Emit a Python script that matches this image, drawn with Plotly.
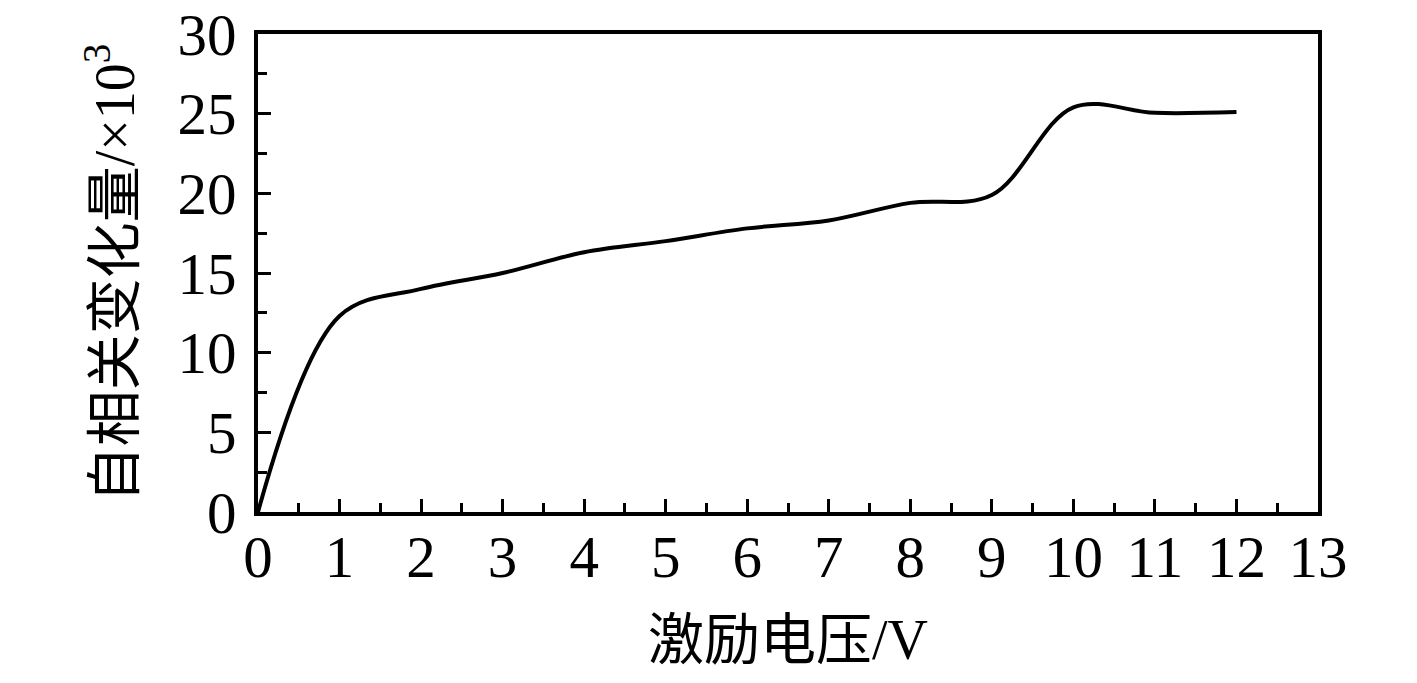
import plotly.graph_objects as go

# excitation voltage (V) and autocorrelation change (x10^3)
voltage = [0, 1, 2, 3, 4, 5, 6, 7, 8, 9, 10, 11, 12]
change = [0, 12.3, 14.0, 15.0, 16.3, 17.0, 17.8, 18.3, 19.4, 19.9, 25.4, 25.05, 25.1]

x_ticks = list(range(0, 14))
y_ticks = [0, 5, 10, 15, 20, 25, 30]

font_family = "Liberation Serif, Times New Roman, Noto Sans CJK SC, serif"

fig = go.Figure()
fig.add_trace(go.Scatter(
    x=voltage, y=change,
    mode='lines',
    line=dict(color='black', width=4, shape='spline', smoothing=1.0),
    showlegend=False
))

axis_common = dict(
    showline=True, linecolor='black', linewidth=3.5, mirror=True,
    ticks='inside', ticklen=13, tickwidth=3, tickcolor='black',
    showgrid=False, zeroline=False, automargin=False,
    ticklabeloverflow='allow',
    tickfont=dict(family=font_family, size=59, color='black'),
)

# page body adds a small offset, margins compensate for it
fig.update_layout(
    width=1417, height=683,
    paper_bgcolor='white', plot_bgcolor='white',
    margin=dict(l=250, r=107, t=26, b=179),
    font=dict(family=font_family, color='black'),
    xaxis=dict(
        range=[0, 13], tickvals=x_ticks,
        minor=dict(dtick=0.5, ticks='inside', ticklen=9, tickwidth=3, tickcolor='black'),
        title=dict(text='激励电压/V', font=dict(family=font_family, size=56), standoff=32),
        ticklabelstandoff=-10,
        **axis_common
    ),
    yaxis=dict(
        range=[0, 30], tickvals=y_ticks,
        minor=dict(dtick=2.5, ticks='inside', ticklen=9, tickwidth=3, tickcolor='black'),
        title=dict(text='自相关变化量/×10<sup>3</sup>', font=dict(family=font_family, size=56), standoff=26),
        ticklabelstandoff=6,
        **axis_common
    ),
)

fig.write_html("out.html")
